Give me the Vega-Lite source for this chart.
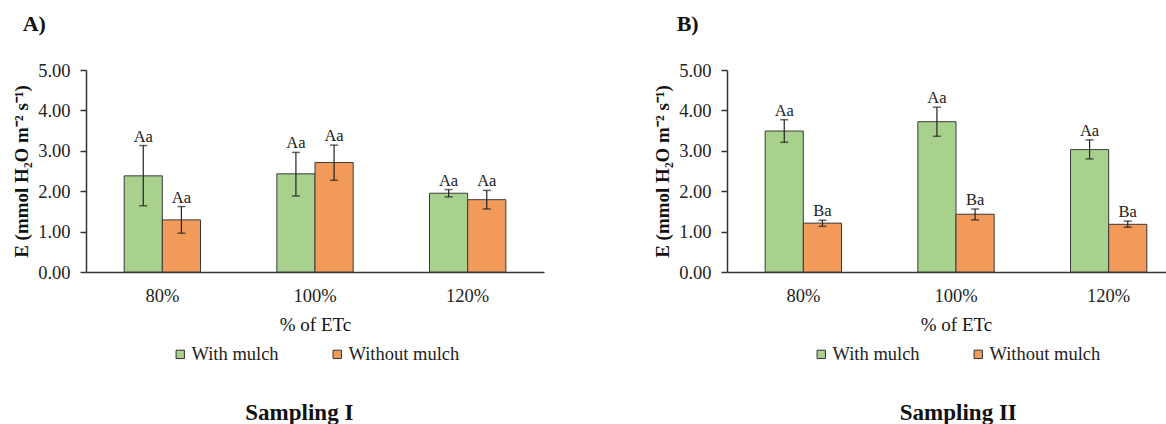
{
  "$schema": "https://vega.github.io/schema/vega-lite/v6.json",
  "padding": {"left": 12, "top": 13, "right": 0, "bottom": 0},
  "background": "white",
  "data": {"values": [
    {"panel": "A", "etc": "80%", "treat": "With mulch", "E": 2.38, "lo": 1.64, "hi": 3.13, "label": "Aa"},
    {"panel": "A", "etc": "80%", "treat": "Without mulch", "E": 1.29, "lo": 0.96, "hi": 1.62, "label": "Aa"},
    {"panel": "A", "etc": "100%", "treat": "With mulch", "E": 2.43, "lo": 1.88, "hi": 2.96, "label": "Aa"},
    {"panel": "A", "etc": "100%", "treat": "Without mulch", "E": 2.71, "lo": 2.27, "hi": 3.14, "label": "Aa"},
    {"panel": "A", "etc": "120%", "treat": "With mulch", "E": 1.95, "lo": 1.86, "hi": 2.04, "label": "Aa"},
    {"panel": "A", "etc": "120%", "treat": "Without mulch", "E": 1.79, "lo": 1.56, "hi": 2.02, "label": "Aa"},
    {"panel": "B", "etc": "80%", "treat": "With mulch", "E": 3.49, "lo": 3.21, "hi": 3.77, "label": "Aa"},
    {"panel": "B", "etc": "80%", "treat": "Without mulch", "E": 1.21, "lo": 1.13, "hi": 1.28, "label": "Ba"},
    {"panel": "B", "etc": "100%", "treat": "With mulch", "E": 3.72, "lo": 3.36, "hi": 4.08, "label": "Aa"},
    {"panel": "B", "etc": "100%", "treat": "Without mulch", "E": 1.43, "lo": 1.29, "hi": 1.56, "label": "Ba"},
    {"panel": "B", "etc": "120%", "treat": "With mulch", "E": 3.03, "lo": 2.80, "hi": 3.27, "label": "Aa"},
    {"panel": "B", "etc": "120%", "treat": "Without mulch", "E": 1.18, "lo": 1.11, "hi": 1.26, "label": "Ba"}
  ]},
  "spacing": 109,
  "resolve": {"scale": {"color": "independent", "xOffset": "independent"}, "legend": {"color": "independent"}},
  "hconcat": [
    {
      "title": {"text": "Sampling I", "orient": "bottom", "anchor": "middle", "frame": "bounds", "fontSize": 23, "fontWeight": "bold", "offset": 38, "dx": 21},
      "resolve": {"scale": {"color": "independent"}, "legend": {"color": "independent"}},
      "vconcat": [
        {
          "title": {"text": "A)", "anchor": "start", "frame": "bounds", "fontSize": 22, "fontWeight": "bold", "dx": 10, "offset": 25},
          "width": 458,
          "height": 202,
          "transform": [{"filter": "datum.panel == 'A'"}],
          "encoding": {
            "x": {"field": "etc", "type": "nominal", "sort": ["80%", "100%", "120%"], "title": "% of ETc",
                  "scale": {"paddingInner": 0.5, "paddingOuter": 0.25}},
            "xOffset": {"field": "treat", "type": "nominal", "sort": ["With mulch", "Without mulch"], "scale": {"paddingInner": 0, "paddingOuter": 0}}
          },
          "layer": [
            {
              "mark": {"type": "bar", "stroke": "#3a3a3a", "strokeWidth": 1},
              "encoding": {
                "y": {"field": "E", "type": "quantitative", "title": "E (mmol H₂O m⁻² s⁻¹)",
                      "scale": {"domain": [0, 5]}, "axis": {"values": [0, 1, 2, 3, 4, 5], "format": ".2f"}},
                "color": {"field": "treat", "type": "nominal", "sort": ["With mulch", "Without mulch"],
                          "scale": {"domain": ["With mulch", "Without mulch"], "range": ["#A9D18E", "#F29A5A"]},
                          "legend": {"title": null, "orient": "bottom", "direction": "horizontal", "symbolType": "square",
                                     "symbolSize": 70, "symbolStrokeColor": "#333333", "symbolStrokeWidth": 1,
                                     "symbolOpacity": 1, "labelFontSize": 18.5, "labelFont": "Liberation Serif",
                                     "labelColor": "#222222", "columnPadding": 49, "offset": 10, "labelOffset": 2}}
              }
            },
            {
              "mark": {"type": "rule", "color": "#222222", "strokeWidth": 1.2},
              "encoding": {"y": {"field": "lo", "type": "quantitative"}, "y2": {"field": "hi"}}
            },
            {
              "mark": {"type": "tick", "color": "#222222", "size": 8, "thickness": 1.5, "orient": "horizontal"},
              "encoding": {"y": {"field": "lo", "type": "quantitative"}}
            },
            {
              "mark": {"type": "tick", "color": "#222222", "size": 8, "thickness": 1.5, "orient": "horizontal"},
              "encoding": {"y": {"field": "hi", "type": "quantitative"}}
            },
            {
              "mark": {"type": "text", "baseline": "alphabetic", "dy": -4, "fontSize": 16.5, "font": "Liberation Serif", "color": "#222222"},
              "encoding": {"y": {"field": "hi", "type": "quantitative"}, "text": {"field": "label"}}
            }
          ]
        }
      ]
    },
    {
      "title": {"text": "Sampling II", "orient": "bottom", "anchor": "middle", "frame": "bounds", "fontSize": 23, "fontWeight": "bold", "offset": 38, "dx": 39},
      "resolve": {"scale": {"color": "independent"}, "legend": {"color": "independent"}},
      "vconcat": [
        {
          "title": {"text": "B)", "anchor": "start", "frame": "bounds", "fontSize": 22, "fontWeight": "bold", "dx": 23, "offset": 25},
          "width": 458,
          "height": 202,
          "transform": [{"filter": "datum.panel == 'B'"}],
          "encoding": {
            "x": {"field": "etc", "type": "nominal", "sort": ["80%", "100%", "120%"], "title": "% of ETc",
                  "scale": {"paddingInner": 0.5, "paddingOuter": 0.25}},
            "xOffset": {"field": "treat", "type": "nominal", "sort": ["With mulch", "Without mulch"], "scale": {"paddingInner": 0, "paddingOuter": 0}}
          },
          "layer": [
            {
              "mark": {"type": "bar", "stroke": "#3a3a3a", "strokeWidth": 1},
              "encoding": {
                "y": {"field": "E", "type": "quantitative", "title": "E (mmol H₂O m⁻² s⁻¹)",
                      "scale": {"domain": [0, 5]}, "axis": {"values": [0, 1, 2, 3, 4, 5], "format": ".2f"}},
                "color": {"field": "treat", "type": "nominal", "sort": ["With mulch", "Without mulch"],
                          "scale": {"domain": ["With mulch", "Without mulch"], "range": ["#A9D18E", "#F29A5A"]},
                          "legend": {"title": null, "orient": "bottom", "direction": "horizontal", "symbolType": "square",
                                     "symbolSize": 70, "symbolStrokeColor": "#333333", "symbolStrokeWidth": 1,
                                     "symbolOpacity": 1, "labelFontSize": 18.5, "labelFont": "Liberation Serif",
                                     "labelColor": "#222222", "columnPadding": 49, "offset": 10, "labelOffset": 2}}
              }
            },
            {
              "mark": {"type": "rule", "color": "#222222", "strokeWidth": 1.2},
              "encoding": {"y": {"field": "lo", "type": "quantitative"}, "y2": {"field": "hi"}}
            },
            {
              "mark": {"type": "tick", "color": "#222222", "size": 8, "thickness": 1.5, "orient": "horizontal"},
              "encoding": {"y": {"field": "lo", "type": "quantitative"}}
            },
            {
              "mark": {"type": "tick", "color": "#222222", "size": 8, "thickness": 1.5, "orient": "horizontal"},
              "encoding": {"y": {"field": "hi", "type": "quantitative"}}
            },
            {
              "mark": {"type": "text", "baseline": "alphabetic", "dy": -4, "fontSize": 16.5, "font": "Liberation Serif", "color": "#222222"},
              "encoding": {"y": {"field": "hi", "type": "quantitative"}, "text": {"field": "label"}}
            }
          ]
        }
      ]
    }
  ],
  "config": {
    "font": "Liberation Serif",
    "view": {"stroke": null},
    "title": {"font": "Liberation Serif", "color": "#111111"},
    "axis": {"labelFont": "Liberation Serif", "titleFont": "Liberation Serif", "labelFontSize": 18.5, "titleFontSize": 19,
             "labelColor": "#222222", "titleColor": "#111111", "domainColor": "#333333", "tickColor": "#333333", "grid": false},
    "axisX": {"ticks": false, "labelAngle": 0, "labelPadding": 14, "titleFontWeight": "normal", "titleFontSize": 19, "titlePadding": 11, "domainWidth": 1.5},
    "axisY": {"tickSize": 6, "labelPadding": 10, "titleFontWeight": "bold", "titlePadding": 6, "domainWidth": 1.5, "tickWidth": 1.5},
    "legend": {"layout": {"bottom": {"anchor": "middle"}}}
  }
}
